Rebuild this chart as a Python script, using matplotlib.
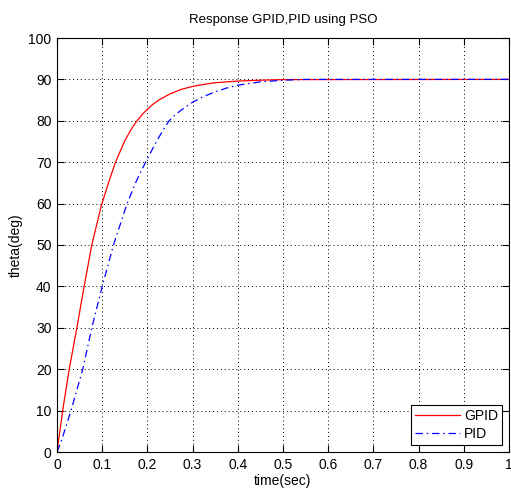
import matplotlib
matplotlib.use("Agg")
import matplotlib.pyplot as plt

plt.rcParams['font.family'] = ['Liberation Sans', 'DejaVu Sans']

# GPID response (time in s, theta in deg)
t_gpid = [0, 0.0125, 0.027, 0.044, 0.06, 0.077, 0.088, 0.098, 0.113, 0.129,
          0.15, 0.165, 0.175, 0.19, 0.2, 0.21, 0.225, 0.25, 0.275, 0.3,
          0.325, 0.35, 0.375, 0.4, 0.45, 0.5, 1.0]
theta_gpid = [0, 10, 20, 30, 40, 50, 55, 59.5, 64.7, 69.9,
              75.2, 78.1, 79.7, 81.7, 82.8, 83.8, 85.0, 86.5, 87.6, 88.3,
              88.8, 89.2, 89.4, 89.6, 89.8, 89.95, 90]

# PID response
t_pid = [0, 0.01, 0.02, 0.031, 0.044, 0.057, 0.077, 0.1, 0.125, 0.14,
         0.155, 0.175, 0.196, 0.22, 0.235, 0.248, 0.26, 0.275, 0.3, 0.325,
         0.35, 0.375, 0.4, 0.45, 0.5, 0.55, 1.0]
theta_pid = [0, 2.8, 6.2, 10, 15, 20, 30, 40, 50, 55,
             60, 65.3, 70, 75, 77.8, 80, 81.3, 82.6, 84.5, 85.9,
             87, 87.9, 88.6, 89.4, 89.8, 90, 90]

title = "Response GPID,PID using PSO"
xlabel = "time(sec)"
ylabel = "theta(deg)"
legend_labels = ["GPID", "PID"]
xticks = [0, 0.1, 0.2, 0.3, 0.4, 0.5, 0.6, 0.7, 0.8, 0.9, 1]
xticklabels = ["0", "0.1", "0.2", "0.3", "0.4", "0.5", "0.6", "0.7", "0.8", "0.9", "1"]
yticks = [0, 10, 20, 30, 40, 50, 60, 70, 80, 90, 100]

fig = plt.figure(figsize=(5.11, 4.97), dpi=100, facecolor='white')
ax = fig.add_axes([57/511, 1-452/497, (509-57)/511, (452-38)/497])

ax.plot(t_gpid, theta_gpid, color='#ff0000', linestyle='-', linewidth=0.9, label=legend_labels[0])
ax.plot(t_pid, theta_pid, color='#0000ff', linestyle=(0, (6, 3, 1.2, 3)), linewidth=0.9, label=legend_labels[1])

ax.set_xlim(0, 1)
ax.set_ylim(0, 100)
ax.set_xticks(xticks)
ax.set_xticklabels(xticklabels)
ax.set_yticks(yticks)
ax.tick_params(direction='in', length=5, width=0.8, top=True, right=True,
               labelsize=10, pad=4, colors='black')
ax.grid(True, color='black', linestyle=(0, (1, 3)), linewidth=0.7)
for s in ax.spines.values():
    s.set_linewidth(0.8)

ax.set_title(title, fontsize=9.5, pad=11)
ax.set_xlabel(xlabel, fontsize=10, labelpad=2)
ax.set_ylabel(ylabel, fontsize=10, labelpad=4)

leg = ax.legend(loc='lower right', fontsize=10, frameon=True, fancybox=False,
                edgecolor='black', framealpha=1, borderpad=0.3, handlelength=3.2,
                handletextpad=0.3, labelspacing=0.3, borderaxespad=0.5)
leg.get_frame().set_linewidth(0.8)

fig.savefig("out.png", dpi=100, facecolor='white')
